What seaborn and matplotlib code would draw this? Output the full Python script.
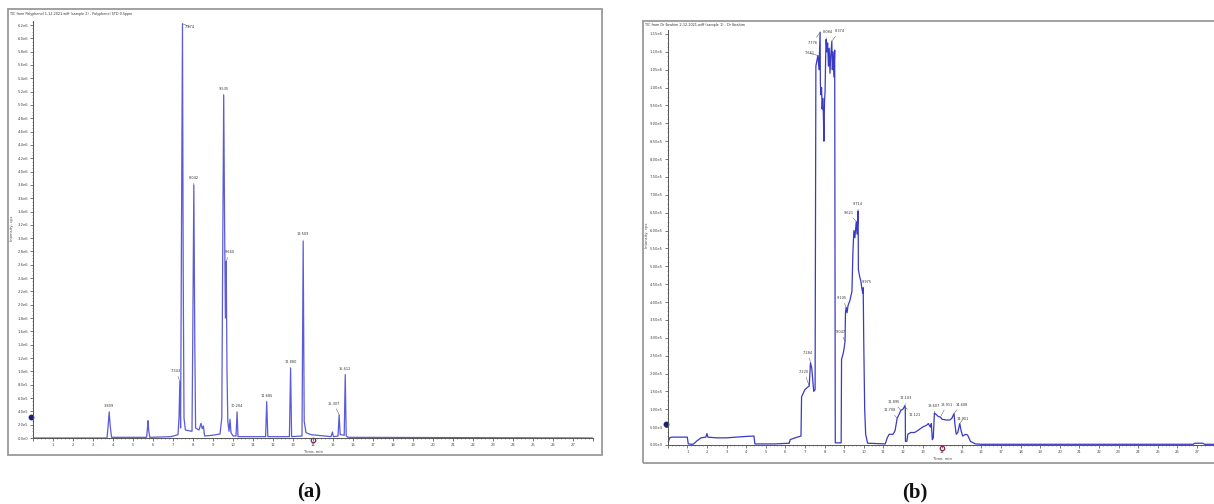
import matplotlib
matplotlib.use("Agg")
import numpy as np
import pandas as pd
import matplotlib.pyplot as plt
import seaborn as sns
from matplotlib.patches import Rectangle
from matplotlib.ticker import MultipleLocator, FuncFormatter

# ---------------------------------------------------------------- data
# (a) TIC, Polyphenol STD 0.5 ppm : retention time (min) / intensity (cps)
time_a = [0.00, 3.70, 3.76, 3.809, 3.86, 3.93,
          5.68, 5.72, 5.75, 5.79, 5.84,
          6.90, 7.25, 7.30, 7.343, 7.38, 7.42, 7.474, 7.51, 7.55, 7.62,
          7.95, 7.99, 8.042, 8.09, 8.13, 8.30, 8.40, 8.46, 8.52, 8.58,
          8.95, 9.35, 9.44, 9.49, 9.535, 9.58, 9.62, 9.660, 9.70, 9.74,
          9.80, 9.85, 9.90, 10.00, 10.15, 10.204, 10.25,
          11.63, 11.685, 11.74, 12.82, 12.880, 12.93,
          13.45, 13.509, 13.56, 13.65, 13.90, 14.90, 14.97, 15.02,
          15.25, 15.307, 15.36, 15.40, 15.56, 15.612, 15.66, 15.75, 28.00]
tic_a = [0.00, 0.00, 0.20, 0.39, 0.18, 0.01,
         0.01, 0.14, 0.26, 0.10, 0.01,
         0.02, 0.05, 0.30, 0.85, 0.15, 2.80, 6.22, 2.50, 0.30, 0.12,
         0.10, 1.60, 3.80, 1.40, 0.15, 0.12, 0.22, 0.14, 0.18, 0.03,
         0.04, 0.06, 0.30, 3.00, 5.15, 3.20, 1.80, 2.65, 1.00, 0.25,
         0.10, 0.28, 0.08, 0.03, 0.03, 0.39, 0.02,
         0.02, 0.545, 0.02, 0.02, 1.05, 0.02,
         0.03, 2.95, 0.25, 0.08, 0.05, 0.02, 0.09, 0.02,
         0.03, 0.35, 0.05, 0.05, 0.04, 0.95, 0.03, 0.01, 0.00]
tic_a = [v * 1e6 for v in tic_a]

peaks_a = ["3.809", "7.343", "7.474", "8.042", "9.535", "9.660",
           "10.204", "11.685", "12.880", "13.509", "15.307", "15.612"]

# (b) TIC, Dr Ibrahim sample : retention time (min) / intensity (cps)
time_b = [0.00, 0.10, 0.20, 1.00, 1.05, 1.30, 1.50, 1.70, 1.95, 2.00, 2.05,
          2.50, 3.00, 3.50, 4.00, 4.40, 4.45, 5.50, 6.20, 6.25, 6.50, 6.80,
          6.83, 7.00, 7.10, 7.220, 7.284, 7.35, 7.45, 7.52, 7.56, 7.661,
          7.72, 7.776, 7.79, 7.82, 7.85, 7.88, 7.91, 7.94, 7.97, 8.00,
          8.03, 8.06, 8.084, 8.12, 8.16, 8.20, 8.24, 8.28, 8.32, 8.374,
          8.40, 8.44, 8.48, 8.52, 8.55, 8.85, 8.87, 8.95, 9.00, 9.047,
          9.07, 9.105, 9.15, 9.20, 9.30, 9.40, 9.45, 9.50, 9.55, 9.621,
          9.66, 9.714, 9.73, 9.80, 9.85, 9.90, 9.95, 9.975, 10.00, 10.05,
          10.10, 10.20, 11.10, 11.20, 11.30, 11.50, 11.60, 11.708, 11.80,
          11.895, 12.00, 12.103, 12.121, 12.13, 12.20, 12.25, 12.40, 12.60,
          12.80, 13.00, 13.20, 13.30, 13.40, 13.45, 13.50, 13.55, 13.607,
          13.70, 13.80, 13.911, 14.00, 14.20, 14.40, 14.50, 14.608, 14.65,
          14.72, 14.80, 14.901, 14.97, 15.05, 15.20, 15.30, 15.45, 15.70,
          16.00, 26.80, 26.90, 27.30, 27.40, 28.00]
tic_b = [0.03, 0.20, 0.22, 0.22, 0.03, 0.02, 0.12, 0.20, 0.22, 0.32, 0.22,
         0.20, 0.20, 0.22, 0.24, 0.25, 0.03, 0.03, 0.05, 0.15, 0.20, 0.25,
         1.35, 1.55, 1.60, 1.65, 2.30, 2.15, 1.50, 1.55, 10.60, 10.90,
         10.50, 11.55, 10.10, 9.80, 10.00, 9.40, 9.70, 9.30, 8.50, 9.60,
         9.90, 10.90, 11.35, 11.00, 11.25, 10.60, 11.10, 10.40, 10.90, 11.30,
         10.50, 11.00, 10.30, 11.05, 0.06, 0.06, 2.40, 2.55, 2.70, 2.90,
         3.70, 3.85, 3.70, 3.90, 4.05, 4.30, 5.40, 6.00, 5.80, 6.25,
         5.90, 6.55, 4.90, 4.70, 4.60, 4.40, 4.25, 4.40, 3.00, 1.00,
         0.30, 0.05, 0.03, 0.20, 0.30, 0.30, 0.40, 0.75, 0.85,
         0.97, 1.00, 1.10, 1.05, 0.10, 0.10, 0.30, 0.35, 0.35,
         0.42, 0.50, 0.55, 0.60, 0.50, 0.60, 0.15, 0.20, 0.90,
         0.85, 0.80, 0.78, 0.72, 0.70, 0.70, 0.75, 0.88, 0.60,
         0.30, 0.35, 0.60, 0.40, 0.25, 0.30, 0.28, 0.10, 0.03,
         0.02, 0.02, 0.05, 0.05, 0.02, 0.02]
tic_b = [v * 1e5 for v in tic_b]

peaks_b = ["7.220", "7.284", "7.661", "7.776", "8.084", "8.374", "9.047",
           "9.105", "9.621", "9.714", "9.975", "11.708", "11.895", "12.103",
           "12.121", "13.607", "13.911", "14.608", "14.901"]

title_a = "TIC from Polyphenol 1-12-2021.wiff (sample 2) - Polyphenol STD 0.5ppm"
title_b = "TIC from Dr Ibrahim 2-12-2021.wiff (sample 1) - Dr Ibrahim"

# ---------------------------------------------------------------- layout
# label offsets (min, fraction of y-range) relative to the labelled point
offs_a = {"3.809": (0, 0.010), "7.343": (-0.19, 0.020), "7.474": (0.36, -0.012),
          "8.042": (0, 0.012), "9.535": (0, 0.010), "9.660": (0.16, 0.018),
          "10.204": (0, 0.010), "11.685": (0, 0.010), "12.880": (0, 0.010),
          "13.509": (0, 0.012), "15.307": (-0.27, 0.022), "15.612": (0, 0.010)}
offs_b = {"7.220": (-0.26, 0.030), "7.284": (-0.11, 0.020), "7.661": (-0.42, 0.000),
          "7.776": (-0.38, -0.030), "8.084": (0.10, 0.012), "8.374": (0.40, 0.020),
          "9.047": (-0.22, 0.018), "9.105": (-0.20, 0.018), "9.621": (-0.38, 0.016),
          "9.714": (0.01, 0.012), "9.975": (0.17, 0.010), "11.708": (-0.38, 0.015),
          "11.895": (-0.36, 0.016), "12.103": (0.05, 0.013), "12.121": (0.48, -0.022),
          "13.607": (-0.02, 0.012), "13.911": (0.34, 0.025), "14.608": (0.38, 0.017),
          "14.901": (0.15, 0.005)}

W, H = 1214, 504
sns.set_style("white")
plt.rcParams["font.family"] = ["DejaVu Sans"]

fig = plt.figure(figsize=(W / 100, H / 100), dpi=100)


def px_axes(left, top, right, bottom):
    return fig.add_axes([left / W, 1 - bottom / H, (right - left) / W,
                         (bottom - top) / H])


def sci_fmt(decimals):
    def f(v, _):
        if v <= 0:
            return "0." + "0" * decimals + "e0"
        e = int(np.floor(np.log10(v) + 1e-9))
        return f"{v / 10 ** e:.{decimals}f}e{e}"
    return FuncFormatter(f)


line_col = "#5b5bd6"
tfs = 2.7   # tiny instrument-software fonts
pfs = 2.5   # peak labels


def style_axes(ax, ymax, ymaj, decimals):
    ax.set_xlim(0, 28)
    ax.set_ylim(0, ymax)
    for s in ("top", "right"):
        ax.spines[s].set_visible(False)
    for s in ("left", "bottom"):
        ax.spines[s].set_color("#555555")
        ax.spines[s].set_linewidth(0.7)
    ax.xaxis.set_major_locator(MultipleLocator(1))
    ax.xaxis.set_minor_locator(MultipleLocator(0.2))
    ax.yaxis.set_major_locator(MultipleLocator(ymaj))
    ax.yaxis.set_minor_locator(MultipleLocator(ymaj / 4))
    ax.xaxis.set_major_formatter(FuncFormatter(lambda v, _: "" if v < 0.5 or v > 27.5 else f"{v:.0f}"))
    ax.yaxis.set_major_formatter(sci_fmt(decimals))
    ax.tick_params(axis="both", which="major", labelsize=tfs, length=2.0, width=0.5,
                   pad=1.5, colors="#444444", direction="out", left=True, bottom=True)
    ax.tick_params(axis="both", which="minor", length=1.0, width=0.4,
                   colors="#666666", direction="out", left=True, bottom=True)
    ax.set_xlabel("")
    ax.set_ylabel("")
    ax.patch.set_alpha(0)


def label_peaks(ax, times, values, names, offs, yrange):
    for name in names:
        t = float(name)
        y = float(np.interp(t, times, values))
        dx, dy = offs[name]
        ax.annotate(name, xy=(t, y), xytext=(t + dx, y + dy * yrange),
                    ha="center", va="bottom", fontsize=pfs, color="#333333",
                    arrowprops=dict(arrowstyle="-", lw=0.35, color="#555555",
                                    shrinkA=0, shrinkB=0.5), annotation_clip=False)


# ---------------------------------------------------------------- panel (a)
fig.patches.append(Rectangle((8 / W, 1 - 455 / H), 594 / W, 446 / H,
                             transform=fig.transFigure, fill=False,
                             ec="#9a9a9a", lw=1.3))
ymax_a = 6.26e6
ax_a = px_axes(33, 438 - ymax_a / 1e6 * 66.61, 593, 438)
df_a = pd.DataFrame({"time": time_a, "tic": tic_a})
sns.lineplot(data=df_a, x="time", y="tic", ax=ax_a, color=line_col, lw=0.9,
             estimator=None, sort=False)
style_axes(ax_a, ymax_a, 0.2e6, 1)
label_peaks(ax_a, time_a, tic_a, peaks_a, offs_a, ymax_a)
ax_a.plot([-0.1], [0.31e6], "o", ms=3.2, color="#1d1d7a", clip_on=False)
ax_a.plot([14.0], [-0.03e6], "o", ms=3.2, mfc="none", mec="#8a2352", mew=0.9,
          clip_on=False)
fig.text(10 / W, 1 - 14 / H, title_a, fontsize=2.4, color="#333333", va="center")
fig.text(12 / W, 1 - 228 / H, "Intensity, cps", fontsize=tfs, rotation=90,
         color="#444444", ha="center", va="center")
fig.text(313 / W, 1 - 452 / H, "Time, min", fontsize=tfs, color="#444444",
         ha="center", va="center")

# ---------------------------------------------------------------- panel (b)
fig.patches.append(Rectangle((643 / W, 1 - 463 / H), 600 / W, 442 / H,
                             transform=fig.transFigure, fill=False,
                             ec="#9a9a9a", lw=1.3))
ymax_b = 1.16e6
ax_b = px_axes(667.7, 445 - ymax_b / 1e6 * 357.4, 667.7 + 28 * 19.6, 445)
df_b = pd.DataFrame({"time": time_b, "tic": tic_b})
sns.lineplot(data=df_b, x="time", y="tic", ax=ax_b, color="#3a3ac4", lw=0.9,
             estimator=None, sort=False)
style_axes(ax_b, ymax_b, 0.5e5, 2)
label_peaks(ax_b, time_b, tic_b, peaks_b, offs_b, ymax_b)
ax_b.plot([-0.09], [0.59e5], "o", ms=3.2, color="#1d1d7a", clip_on=False)
ax_b.plot([14.0], [-0.09e5], "o", ms=3.2, mfc="none", mec="#8a2352", mew=0.9,
          clip_on=False)
fig.text(645 / W, 1 - 25 / H, title_b, fontsize=2.4, color="#333333", va="center")
fig.text(646.5 / W, 1 - 235 / H, "Intensity, cps", fontsize=tfs, rotation=90,
         color="#444444", ha="center", va="center")
fig.text(942 / W, 1 - 459 / H, "Time, min", fontsize=tfs, color="#444444",
         ha="center", va="center")

# ---------------------------------------------------------------- captions
for x, s in ((309, "(a)"), (915, "(b)")):
    fig.text(x / W, 1 - 492 / H, s, fontsize=15, fontweight="bold",
             family="Liberation Serif", ha="center", va="center", color="#111111")

fig.savefig("out.png", dpi=100, facecolor="white")
